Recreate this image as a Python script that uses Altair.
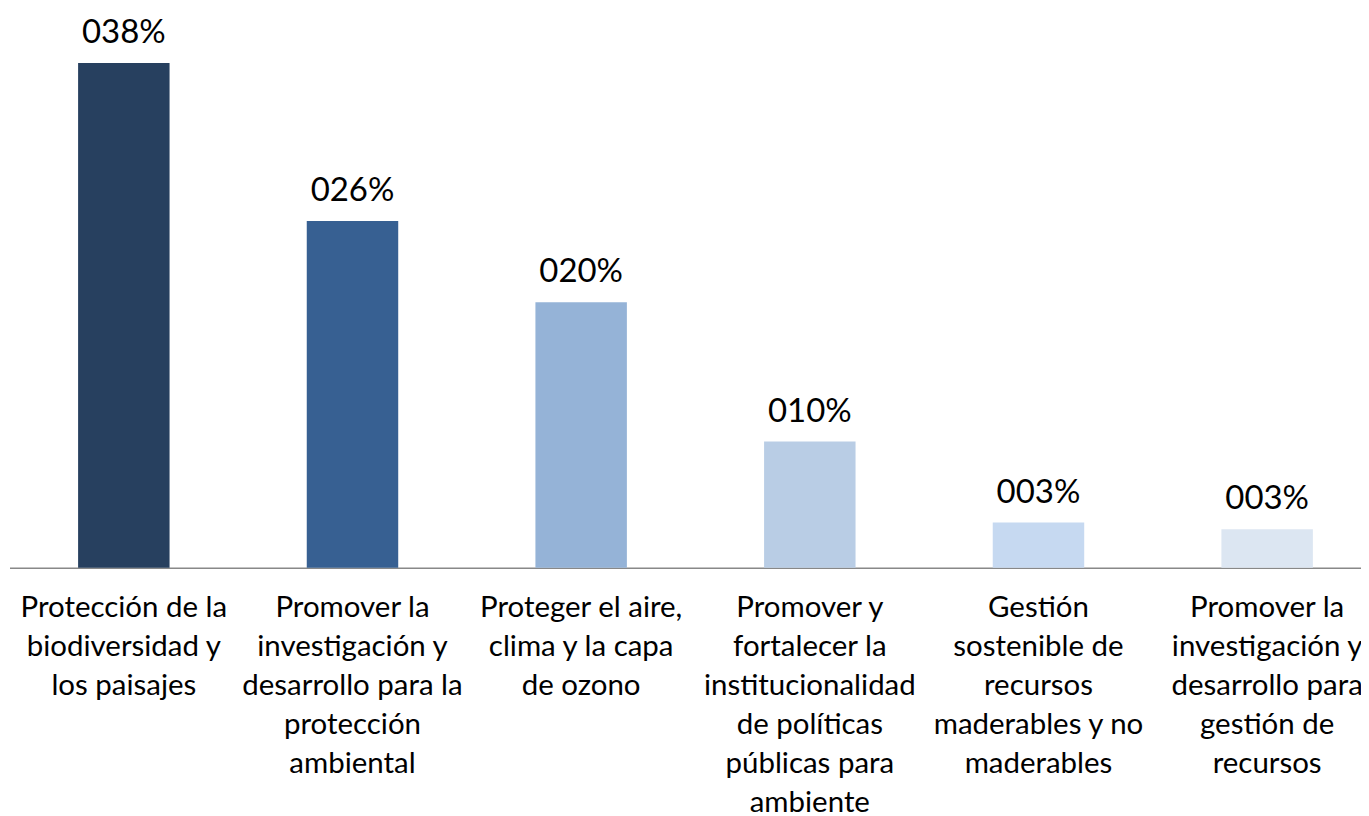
import altair as alt
import pandas as pd

categories = [
    "Protección de la|biodiversidad y|los paisajes",
    "Promover la|investigación y|desarrollo para la|protección|ambiental",
    "Proteger el aire,|clima y la capa|de ozono",
    "Promover y|fortalecer la|institucionalidad|de políticas|públicas para|ambiente",
    "Gestión|sostenible de|recursos|maderables y no|maderables",
    "Promover la|investigación y|desarrollo para|gestión de|recursos",
]
values = [38.0, 26.1, 20.0, 9.5, 3.4, 2.9]
value_labels = ["038%", "026%", "020%", "010%", "003%", "003%"]
colors = ["#27405F", "#376092", "#95B3D7", "#B9CDE5", "#C6D9F1", "#DCE6F2"]

df = pd.DataFrame({"cat": categories, "val": values, "lab": value_labels, "col": colors})

FONT = "Lato"

x = alt.X(
    "cat:N",
    sort=categories,
    scale=alt.Scale(range=[1.5, 1375.5], paddingInner=0.6, paddingOuter=0.3),
    axis=alt.Axis(
        title=None,
        ticks=False,
        domainColor="#888888",
        domainWidth=1.5,
        labelExpr="split(datum.label, '|')",
        labelAngle=0,
        labelFont=FONT,
        labelFontSize=29.5,
        labelLineHeight=39,
        labelColor="#000000",
        labelPadding=26,
        labelLimit=0,
        labelOverlap=False,
        labelBound=False,
        labelFlush=False,
    ),
)
y = alt.Y(
    "val:Q",
    scale=alt.Scale(domain=[0, 42.1], nice=False),
    axis=None,
)

bars = alt.Chart(df).mark_bar().encode(
    x=x, y=y, color=alt.Color("col:N", scale=None)
)
text = alt.Chart(df).mark_text(
    font=FONT, fontSize=33, baseline="alphabetic", dy=-20, color="#000000"
).encode(x=alt.X("cat:N", sort=categories), y=y, text="lab:N")

chart = (
    alt.layer(bars, text)
    .properties(
        width=1355,
        height=560,
        padding={"left": 0, "top": 0, "right": 0, "bottom": 248},
        autosize=alt.AutoSizeParams(type="none"),
    )
    .configure_view(stroke=None)
)

chart.save("out.html", embed_options={"renderer": "svg", "actions": False})
